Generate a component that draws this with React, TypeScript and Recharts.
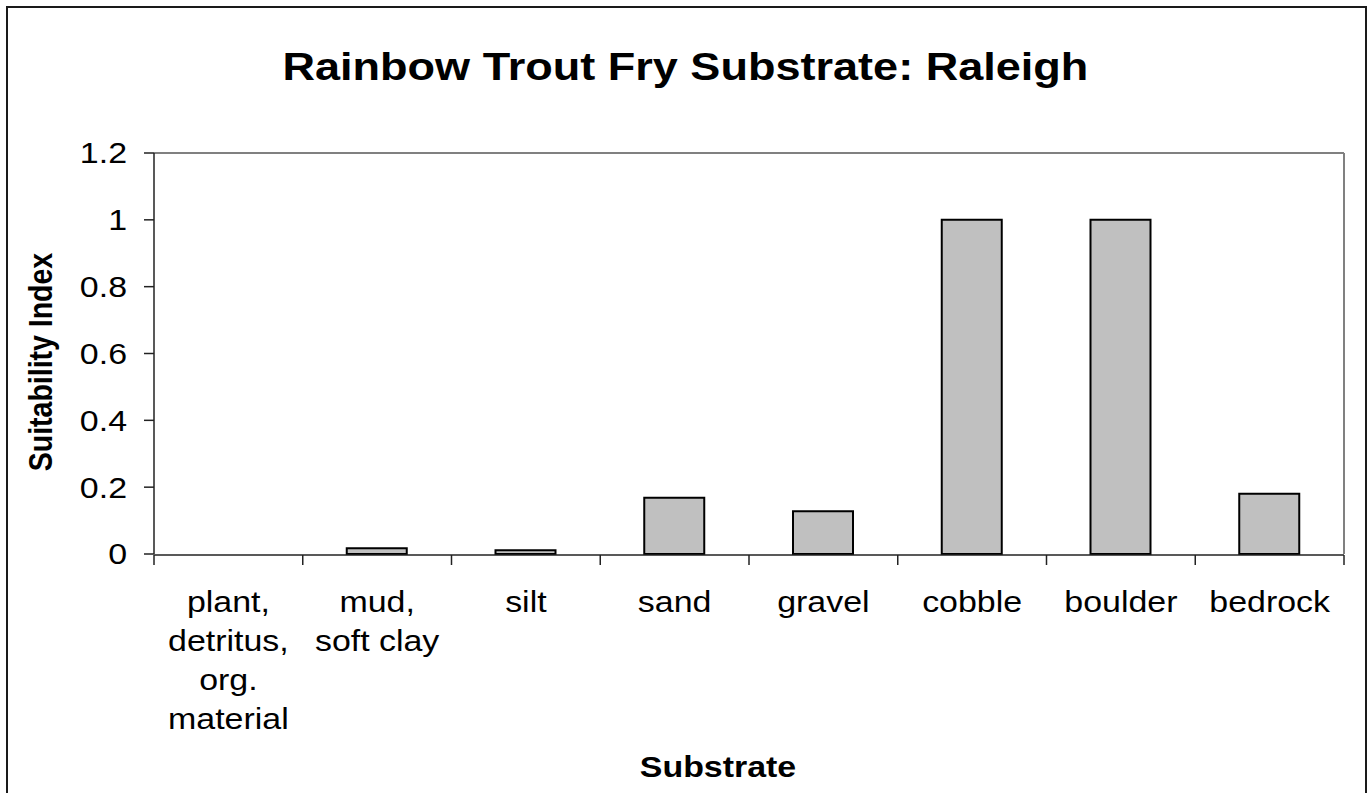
import React from "react";
import { BarChart, Bar, XAxis, YAxis } from "recharts";

const categories = [
  "plant, detritus, org. material",
  "mud, soft clay",
  "silt",
  "sand",
  "gravel",
  "cobble",
  "boulder",
  "bedrock",
];
const categoryLines = [
  ["plant,", "detritus,", "org.", "material"],
  ["mud,", "soft clay"],
  ["silt"],
  ["sand"],
  ["gravel"],
  ["cobble"],
  ["boulder"],
  ["bedrock"],
];
const suitability = [0, 0.017, 0.011, 0.168, 0.128, 1, 1, 0.18];
const yTicks = [0, 0.2, 0.4, 0.6, 0.8, 1, 1.2];
const yTickLabels = ["0", "0.2", "0.4", "0.6", "0.8", "1", "1.2"];
const boundaryTicks = [0, 1, 2, 3, 4, 5, 6, 7, 8];

const chartTitle = "Rainbow Trout Fry Substrate: Raleigh";
const xTitle = "Substrate";
const yTitle = "Suitability Index";

const data = categories.map((c, i) => ({ name: c, pos: i + 0.5, value: suitability[i] }));

const FONT = '"Liberation Sans", Arial, Helvetica, sans-serif';
const SX = 1.17;

const YTick = (props: any) => {
  const { x, y, payload } = props;
  const idx = yTicks.indexOf(payload.value);
  const label = idx >= 0 ? yTickLabels[idx] : String(payload.value);
  return (
    <g transform={`translate(${x},${y}) scale(${SX},1)`}>
      <text x={0} y={0} dy="0.36em" textAnchor="end" fontSize={29} fontFamily={FONT} fill="#000">
        {label}
      </text>
    </g>
  );
};

const XTick = (props: any) => {
  const { x, y, payload } = props;
  const lines = categoryLines[payload.index] || [String(payload.value)];
  return (
    <g transform={`translate(${x},${y}) scale(${SX},1)`}>
      {lines.map((ln, i) => (
        <text key={i} x={0} y={58 + i * 39} textAnchor="middle" fontSize={29} fontFamily={FONT} fill="#000">
          {ln}
        </text>
      ))}
    </g>
  );
};

const EmptyTick = () => <g />;

const YTitle = () => (
  <g transform={`translate(40,362) scale(${SX},1) rotate(-90)`}>
    <text x={0} y={0} dy="0.36em" textAnchor="middle" fontSize={28.5} fontWeight="bold" fontFamily={FONT} fill="#000">
      {yTitle}
    </text>
  </g>
);

const XTitle = () => (
  <g transform={`translate(718,777) scale(${SX},1)`}>
    <text x={0} y={0} textAnchor="middle" fontSize={29} fontWeight="bold" fontFamily={FONT} fill="#000">
      {xTitle}
    </text>
  </g>
);

export default function App() {
  return (
    <div style={{ position: "absolute", left: 0, top: 0, width: 1370, height: 793, background: "#fff", overflow: "hidden" }}>
      <div
        style={{
          position: "absolute",
          left: 6,
          top: 6,
          width: 1361,
          height: 800,
          border: "2px solid #1a1a1a",
          boxSizing: "border-box",
        }}
      />
      <div
        style={{
          position: "absolute",
          left: 0,
          top: 44,
          width: 1370,
          textAlign: "center",
          fontFamily: FONT,
          fontWeight: "bold",
          fontSize: 38.5,
          lineHeight: "46px",
          whiteSpace: "nowrap",
        }}
      >
        <span style={{ display: "inline-block", transform: `scaleX(${SX})` }}>{chartTitle}</span>
      </div>
      <div style={{ position: "absolute", left: 0, top: 0 }}>
        <BarChart
          width={1370}
          height={793}
          data={data}
          margin={{ top: 152, right: 25, left: 54, bottom: 237 }}
        >
          <XAxis
            xAxisId="marks"
            type="number"
            dataKey="pos"
            domain={[0, boundaryTicks.length - 1]}
            ticks={boundaryTicks}
            interval={0}
            allowDataOverflow
            height={1}
            tick={<EmptyTick />}
            tickSize={10}
            axisLine={{ stroke: "#222", strokeWidth: 1.5 }}
            tickLine={{ stroke: "#222", strokeWidth: 1.5 }}
            label={<XTitle />}
          />
          <XAxis
            xAxisId="cat"
            dataKey="name"
            height={1}
            axisLine={false}
            tickLine={false}
            tickSize={0}
            tickMargin={0}
            interval={0}
            tick={<XTick />}
          />
          <XAxis
            xAxisId="top"
            orientation="top"
            dataKey="name"
            height={1}
            tick={false}
            tickLine={false}
            axisLine={{ stroke: "#808080", strokeWidth: 2 }}
          />
          <YAxis
            yAxisId="left"
            width={100}
            domain={[0, 1.2]}
            ticks={yTicks}
            interval={0}
            tickSize={10}
            tickMargin={17}
            axisLine={{ stroke: "#222", strokeWidth: 1.5 }}
            tickLine={{ stroke: "#222", strokeWidth: 1.5 }}
            tick={<YTick />}
            label={<YTitle />}
          />
          <YAxis
            yAxisId="right"
            orientation="right"
            width={1}
            domain={[0, 1.2]}
            ticks={yTicks}
            tick={false}
            tickLine={false}
            axisLine={{ stroke: "#808080", strokeWidth: 2 }}
          />
          <Bar
            dataKey="value"
            xAxisId="cat"
            yAxisId="left"
            barSize={60}
            fill="#C0C0C0"
            stroke="#000"
            strokeWidth={2}
            isAnimationActive={false}
          />
        </BarChart>
      </div>
    </div>
  );
}
